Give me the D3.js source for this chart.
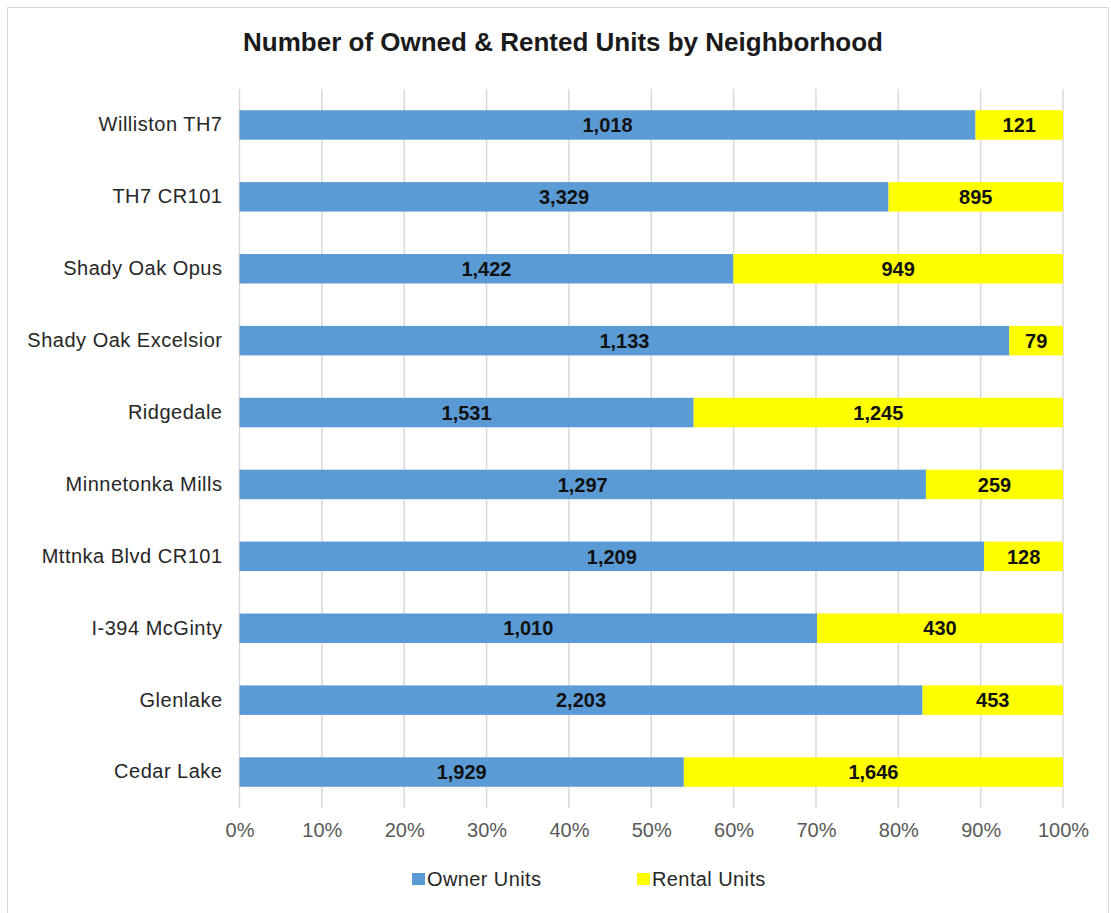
<!DOCTYPE html>
<html>
<head>
<meta charset="utf-8">
<script src="https://cdn.jsdelivr.net/npm/d3@7"></script>
<style>
  body { margin: 0; background: #fff; }
  svg text { font-family: "Liberation Sans", Arial, sans-serif; }
</style>
</head>
<body>
<div id="main"></div>
<script>
// data
const neighborhoods = ['Williston TH7', 'TH7 CR101', 'Shady Oak Opus', 'Shady Oak Excelsior', 'Ridgedale',
  'Minnetonka Mills', 'Mttnka Blvd CR101', 'I-394 McGinty', 'Glenlake', 'Cedar Lake'];
const ownerUnits = [1018, 3329, 1422, 1133, 1531, 1297, 1209, 1010, 2203, 1929];
const rentalUnits = [121, 895, 949, 79, 1245, 259, 128, 430, 453, 1646];
const seriesNames = ['Owner Units', 'Rental Units'];
const tickValues = [0, 0.1, 0.2, 0.3, 0.4, 0.5, 0.6, 0.7, 0.8, 0.9, 1];

// SVG
const w = 1111;
const h = 913;
const plotLeft = 239.5;
const plotRight = 1063;
const plotTop = 89;
const plotBottom = 808;

const ownerColor = '#5B9BD5';
const rentalColor = '#FFFF00';

const svg = d3.select('#main')
  .append('svg')
  .attr('width', w)
  .attr('height', h);

// outer frame
svg.append('rect')
  .attr('x', 7.5).attr('y', 7.5)
  .attr('width', w - 10).attr('height', h)
  .attr('fill', 'none')
  .attr('stroke', '#d9d9d9');

svg.append('text')
  .attr('x', 563)
  .attr('y', 51)
  .attr('text-anchor', 'middle')
  .style('font-size', '26px')
  .style('font-weight', 'bold')
  .style('fill', '#1a1a1a')
  .text('Number of Owned & Rented Units by Neighborhood');

const x = d3.scaleLinear().domain([0, 1]).range([plotLeft, plotRight]);
const y = d3.scaleBand().domain(neighborhoods).range([plotTop, plotBottom]).paddingInner(0.59).paddingOuter(0.295);

// grid
svg.append('g')
  .selectAll('line')
  .data(tickValues)
  .enter()
  .append('line')
  .attr('x1', d => x(d)).attr('x2', d => x(d))
  .attr('y1', plotTop).attr('y2', plotBottom)
  .attr('stroke', '#d9d9d9')
  .attr('stroke-width', 1.5);

// x axis labels
const xAxis = d3.axisBottom(x)
  .tickValues(tickValues)
  .tickFormat(d3.format('.0%'))
  .tickSize(0)
  .tickPadding(15);

const gx = svg.append('g')
  .attr('transform', `translate(0, ${plotBottom})`)
  .call(xAxis);
gx.select('.domain').remove();
gx.selectAll('text').style('font-size', '20px').style('fill', '#595959');

// y axis labels
const yAxis = d3.axisLeft(y).tickSize(0).tickPadding(17);
const gy = svg.append('g')
  .attr('transform', `translate(${plotLeft}, 0)`)
  .call(yAxis);
gy.select('.domain').remove();
gy.selectAll('text').style('font-size', '20px').style('letter-spacing', '0.5px').style('fill', '#262626');

const rows = neighborhoods.map((n, i) => {
  const total = ownerUnits[i] + rentalUnits[i];
  return { name: n, owner: ownerUnits[i], rental: rentalUnits[i], p: ownerUnits[i] / total };
});

const segs = [];
rows.forEach(r => {
  segs.push({ name: r.name, x0: 0, x1: r.p, v: r.owner, c: ownerColor });
  segs.push({ name: r.name, x0: r.p, x1: 1, v: r.rental, c: rentalColor });
});

svg.append('g')
  .selectAll('rect')
  .data(segs)
  .enter()
  .append('rect')
  .attr('x', d => x(d.x0))
  .attr('y', d => y(d.name))
  .attr('width', d => x(d.x1) - x(d.x0))
  .attr('height', y.bandwidth())
  .attr('fill', d => d.c);

svg.append('g')
  .selectAll('text')
  .data(segs)
  .enter()
  .append('text')
  .attr('x', d => (x(d.x0) + x(d.x1)) / 2)
  .attr('y', d => y(d.name) + y.bandwidth() / 2)
  .attr('dy', '0.36em')
  .attr('text-anchor', 'middle')
  .style('font-size', '20px')
  .style('font-weight', 'bold')
  .style('fill', '#111')
  .text(d => d3.format(',')(d.v));

// legend
const legendX = [412, 637];
const legend = svg.append('g')
  .selectAll('g')
  .data(seriesNames)
  .enter()
  .append('g')
  .attr('transform', (d, i) => `translate(${legendX[i]}, 879)`);

legend.append('rect')
  .attr('x', 0).attr('y', -6)
  .attr('width', 13).attr('height', 12)
  .attr('fill', (d, i) => i == 0 ? ownerColor : rentalColor);

legend.append('text')
  .attr('x', 15)
  .attr('y', 0)
  .attr('dy', '0.36em')
  .style('font-size', '20px')
  .style('letter-spacing', '0.4px')
  .style('fill', '#262626')
  .text(d => d);
</script>
</body>
</html>
